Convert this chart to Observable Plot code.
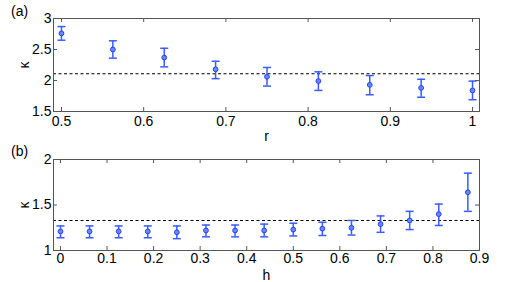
<!DOCTYPE html>
<html><head><meta charset="utf-8">
<script src="https://cdn.jsdelivr.net/npm/d3@7"></script>
<script src="https://cdn.jsdelivr.net/npm/@observablehq/plot@0.6"></script>
<style>
body{margin:0;background:#fff;font-family:"Liberation Sans",Arial,sans-serif;}
#wrap{position:relative;width:518px;height:282px;}
.panel{position:absolute;left:0;}
.lbl{position:absolute;font-size:14px;color:#000;z-index:5;}
</style></head>
<body><div id="wrap">
<div id="pb" class="panel" style="top:141px"></div>
<div id="pa" class="panel" style="top:0px"></div>
<div class="lbl" style="left:11px;top:3px">(a)</div>
<div class="lbl" style="left:11px;top:143px">(b)</div>
</div>
<script>
// Panel (a): kappa vs r
const rVals = [0.5, 0.5625, 0.625, 0.6875, 0.75, 0.8125, 0.875, 0.9375, 1.0];
const kappaR = [2.76, 2.50, 2.37, 2.18, 2.06, 1.99, 1.93, 1.88, 1.84];
const kappaRLo = [2.65, 2.36, 2.22, 2.03, 1.91, 1.84, 1.77, 1.73, 1.69];
const kappaRHi = [2.87, 2.64, 2.52, 2.31, 2.21, 2.14, 2.08, 2.02, 1.99];
const refR = 2.11;
const rTicks = [0.5, 0.6, 0.7, 0.8, 0.9, 1];
const kTicksA = [1.5, 2, 2.5, 3];

// Panel (b): kappa vs h
const hVals = [0, 0.0625, 0.125, 0.1875, 0.25, 0.3125, 0.375, 0.4375, 0.5, 0.5625, 0.625, 0.6875, 0.75, 0.8125, 0.875];
const kappaH = [1.21, 1.21, 1.21, 1.21, 1.20, 1.22, 1.22, 1.22, 1.23, 1.24, 1.25, 1.29, 1.33, 1.40, 1.64];
const kappaHLo = [1.14, 1.14, 1.14, 1.14, 1.13, 1.15, 1.15, 1.15, 1.16, 1.165, 1.17, 1.20, 1.23, 1.275, 1.43];
const kappaHHi = [1.27, 1.27, 1.27, 1.27, 1.27, 1.28, 1.28, 1.29, 1.30, 1.31, 1.33, 1.38, 1.43, 1.51, 1.85];
const refH = 1.33;
const hTicks = [0, 0.1, 0.2, 0.3, 0.4, 0.5, 0.6, 0.7, 0.8, 0.9];
const kTicksB = [1, 1.5, 2];

const BLUE = "#3a5cff";
const capSymbol = {draw(ctx){ ctx.moveTo(-4,0); ctx.lineTo(4,0); }};

function panel({xs, ys, lo, hi, ref, xTicks, yTicks, xDomain, yDomain, xLabel, H, mb, pad}) {
  const data = xs.map((x,i)=>({x, y: ys[i], lo: lo[i], hi: hi[i]}));
  const W = 518, mt = 18, ml = 53, mr = 39;
  const fh = H - mt - mb, fw = W - ml - mr;
  return Plot.plot({
    width: W, height: H, marginTop: mt, marginBottom: mb, marginLeft: ml, marginRight: mr,
    style: {fontFamily: "Liberation Sans, Arial, sans-serif", fontSize: "14px", color: "#000", background: "transparent"},
    x: {domain: xDomain},
    y: {domain: yDomain},
    marks: [
      Plot.ruleY([ref], {y: d=>d, stroke: "#000", strokeWidth: 1.1, strokeDasharray: "3,2.5"}),
      // inward ticks on all four sides
      Plot.tickX(xTicks, {x: d=>d, stroke: "#555", insetTop: fh - 4}),
      Plot.tickX(xTicks, {x: d=>d, stroke: "#555", insetBottom: fh - 4}),
      Plot.tickY(yTicks, {y: d=>d, stroke: "#555", insetRight: fw - 4}),
      Plot.tickY(yTicks, {y: d=>d, stroke: "#555", insetLeft: fw - 4}),
      Plot.frame({stroke: "#555"}),
      Plot.axisX(xTicks, {anchor: "bottom", tickSize: 0, tickPadding: pad, tickFormat: d=>String(d), label: xLabel, labelAnchor: "center", labelArrow: "none", labelOffset: 29, fontSize: 14}),
      Plot.axisY(yTicks, {anchor: "left", tickSize: 0, tickPadding: 2, tickFormat: d=>String(d), label: "κ", labelAnchor: "center", labelArrow: "none", labelOffset: 34, fontSize: 14}),
      Plot.ruleX(data, {x: "x", y1: "lo", y2: "hi", stroke: BLUE, strokeWidth: 1.5}),
      Plot.dot(data, {x: "x", y: "lo", symbol: capSymbol, stroke: BLUE, strokeWidth: 1.5, r: 3}),
      Plot.dot(data, {x: "x", y: "hi", symbol: capSymbol, stroke: BLUE, strokeWidth: 1.5, r: 3}),
      Plot.dot(data, {x: "x", y: "y", r: 2.4, fill: "#6a86ff", stroke: "#2244ee", strokeWidth: 1})
    ]
  });
}

document.getElementById("pa").append(panel({
  xs: rVals, ys: kappaR, lo: kappaRLo, hi: kappaRHi, ref: refR,
  xTicks: rTicks, yTicks: kTicksA, xDomain: [0.4903, 1.0085], yDomain: [1.5, 3], xLabel: "r", H: 146, mb: 35, pad: 5
}));
document.getElementById("pb").append(panel({
  xs: hVals, ys: kappaH, lo: kappaHLo, hi: kappaHHi, ref: refH,
  xTicks: hTicks, yTicks: kTicksB, xDomain: [-0.015, 0.9], yDomain: [1, 2], xLabel: "h", H: 141, mb: 32, pad: 3
}));
</script></body></html>
